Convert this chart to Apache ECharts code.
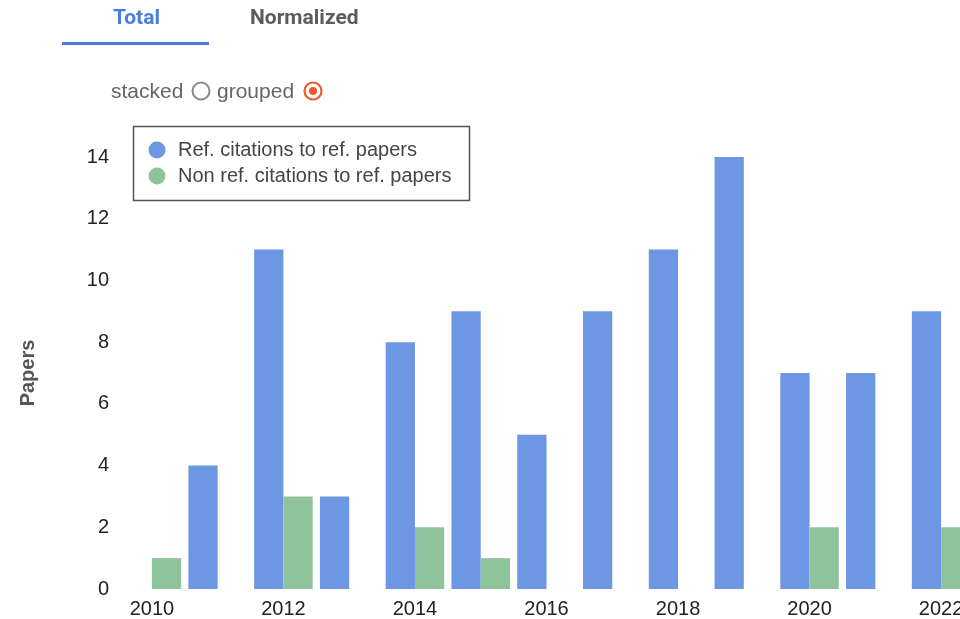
<!DOCTYPE html>
<html>
<head>
<meta charset="utf-8">
<style>
  html, body { margin: 0; padding: 0; background: #fff; overflow: hidden; }
  #chart { width: 1000px; height: 619px; }
</style>
<script src="https://cdn.jsdelivr.net/npm/echarts@6/dist/echarts.min.js"></script>
</head>
<body>
<div id="chart"></div>
<script>
// Citation counts per year
const years = ['2010','2011','2012','2013','2014','2015','2016','2017','2018','2019','2020','2021','2022'];
const refCitations = [0, 4, 11, 3, 8, 9, 5, 9, 11, 14, 7, 7, 9];
const nonRefCitations = [1, 0, 3, 0, 2, 1, 0, 0, 0, 0, 2, 0, 2];
const yTicks = { min: 0, max: 14, interval: 2 };
const seriesNames = ['Ref. citations to ref. papers', 'Non ref. citations to ref. papers'];

const BLUE = '#6d96e3';
const GREEN = '#8fc39b';
const textFont = '"Liberation Sans", Arial, sans-serif';

const chart = echarts.init(document.getElementById('chart'), null, { renderer: 'canvas' });

chart.setOption({
  animation: false,
  backgroundColor: '#ffffff',
  grid: { left: 119, top: 157, bottom: 28, width: 855, containLabel: false },
  xAxis: {
    type: 'category',
    data: years,
    boundaryGap: true,
    axisLine: { show: false },
    axisTick: { show: false },
    axisLabel: { interval: 1, color: '#222', fontSize: 20, fontFamily: textFont, margin: 10 }
  },
  yAxis: {
    type: 'value',
    min: yTicks.min,
    max: yTicks.max,
    interval: yTicks.interval,
    name: 'Papers',
    nameLocation: 'middle',
    nameGap: 81,
    nameRotate: 90,
    nameTextStyle: { color: '#555', fontSize: 20, fontWeight: 'bold', fontFamily: textFont },
    axisLine: { show: false },
    axisTick: { show: false },
    splitLine: { show: false },
    axisLabel: { color: '#222', fontSize: 20, fontFamily: textFont, margin: 10 }
  },
  series: [
    {
      name: seriesNames[0], type: 'bar', data: refCitations,
      barGap: '0%', barCategoryGap: '11%',
      itemStyle: { color: BLUE }
    },
    {
      name: seriesNames[1], type: 'bar', data: nonRefCitations,
      barGap: '0%', barCategoryGap: '11%',
      itemStyle: { color: GREEN }
    }
  ],
  graphic: [
    // view tabs
    { type: 'text', left: 113, top: 8, style: { text: 'Total', fill: '#4a7de0', font: 'bold 21px Roboto, sans-serif' } },
    { type: 'text', left: 250, top: 8, style: { text: 'Normalized', fill: '#5c5c5c', font: 'bold 21px Roboto, sans-serif' } },
    { type: 'rect', shape: { x: 62, y: 42, width: 147, height: 3 }, style: { fill: '#4a7de0' } },
    // stacked / grouped switch
    { type: 'text', left: 111, top: 82, style: { text: 'stacked', fill: '#666', font: '21px ' + textFont } },
    { type: 'circle', shape: { cx: 201, cy: 91, r: 8.5 }, style: { fill: '#fff', stroke: '#8a8a96', lineWidth: 2 } },
    { type: 'text', left: 217, top: 82, style: { text: 'grouped', fill: '#666', font: '21px ' + textFont } },
    { type: 'circle', shape: { cx: 313, cy: 91, r: 8.5 }, style: { fill: '#fff', stroke: '#ea5a2b', lineWidth: 2.2 } },
    { type: 'circle', shape: { cx: 313, cy: 91, r: 4 }, style: { fill: '#ea5a2b' } },
    // legend box
    { type: 'rect', shape: { x: 133.5, y: 126.5, width: 336, height: 74 }, style: { fill: '#fff', stroke: '#555', lineWidth: 1.5 } },
    { type: 'circle', shape: { cx: 157, cy: 150, r: 8.5 }, style: { fill: BLUE } },
    { type: 'text', left: 178, top: 140, style: { text: seriesNames[0], fill: '#444', font: '20px ' + textFont } },
    { type: 'circle', shape: { cx: 157, cy: 176, r: 8.5 }, style: { fill: GREEN } },
    { type: 'text', left: 178, top: 166, style: { text: seriesNames[1], fill: '#444', font: '20px ' + textFont } }
  ]
});
</script>
</body>
</html>
